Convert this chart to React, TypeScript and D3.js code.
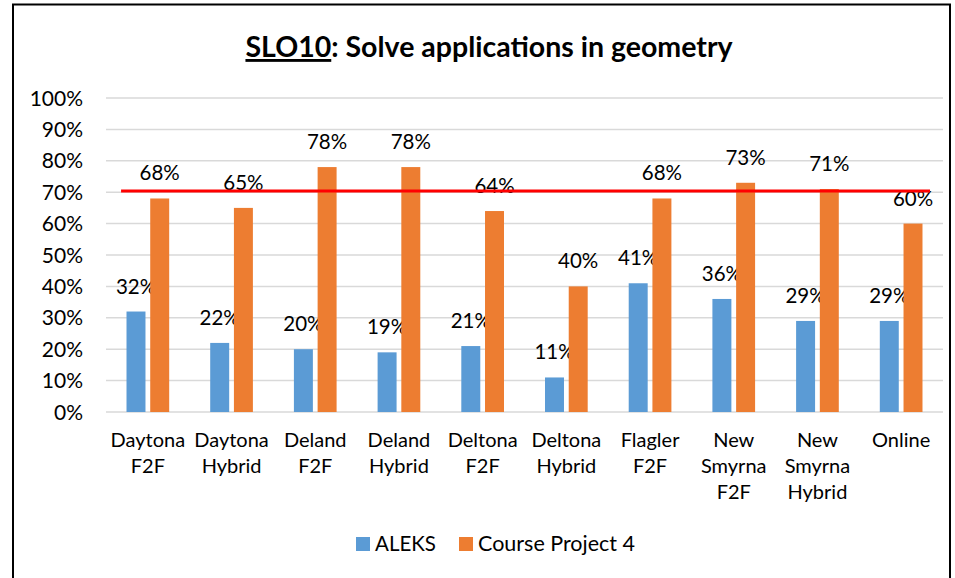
import React from "react";
import * as d3 from "d3";

// chart values
const categories = [
  ["Daytona", "F2F"],
  ["Daytona", "Hybrid"],
  ["Deland", "F2F"],
  ["Deland", "Hybrid"],
  ["Deltona", "F2F"],
  ["Deltona", "Hybrid"],
  ["Flagler", "F2F"],
  ["New", "Smyrna", "F2F"],
  ["New", "Smyrna", "Hybrid"],
  ["Online"],
];
const seriesNames = ["ALEKS", "Course Project 4"];
const aleks = [0.32, 0.22, 0.2, 0.19, 0.21, 0.11, 0.41, 0.36, 0.29, 0.29];
const courseProject = [0.68, 0.65, 0.78, 0.78, 0.64, 0.4, 0.68, 0.73, 0.71, 0.6];
const target = 0.704;
const yTicks = [0, 0.1, 0.2, 0.3, 0.4, 0.5, 0.6, 0.7, 0.8, 0.9, 1];
const colors = ["#5B9BD5", "#ED7D31"];

const W = 955;
const H = 578;
const FONT = "Lato, 'Open Sans', sans-serif";

export default function App() {
  const keys = categories.map((c) => c.join(" "));
  const x = d3.scaleBand().domain(keys).range([106, 943]);
  const bw = x.bandwidth();
  const x1 = d3
    .scaleBand()
    .domain(seriesNames)
    .range([bw * 0.245, bw * 0.755])
    .paddingInner(0.2);
  const y = d3.scaleLinear().domain([0, 1]).range([412, 98]);
  const pct = d3.format(".0%");
  const values = [aleks, courseProject];

  const lineX0 = (x(keys[0]) as number) + bw * 0.18;
  const lineX1 = (x(keys[keys.length - 1]) as number) + bw * 0.845;

  return (
    <svg
      width={W}
      height={H}
      style={{ position: "absolute", left: 0, top: 0, background: "#fff" }}
      fontFamily={FONT}
    >
      <rect x={0} y={0} width={W} height={H} fill="#fff" />
      <rect x={13} y={4.5} width={937} height={H + 10} fill="none" stroke="#000" strokeWidth={2} />

      {/* title */}
      <text x={489} y={57} textAnchor="middle" fontSize={28.5} fontWeight="bold" fill="#000">
        <tspan textDecoration="underline">SLO10</tspan>
        <tspan>: Solve applications in geometry</tspan>
      </text>

      {/* gridlines + y labels */}
      {yTicks.map((t) => (
        <g key={t}>
          <line x1={106} x2={943} y1={y(t)} y2={y(t)} stroke="#d9d9d9" strokeWidth={1.5} />
          <text x={83} y={y(t)} dy="0.36em" textAnchor="end" fontSize={21} fill="#000">
            {pct(t)}
          </text>
        </g>
      ))}

      {/* bars */}
      {values.map((vals, si) =>
        vals.map((v, i) => {
          const bx = (x(keys[i]) as number) + (x1(seriesNames[si]) as number);
          return (
            <g key={`${si}-${i}`}>
              <rect
                x={bx}
                y={y(v)}
                width={x1.bandwidth()}
                height={y(0) - y(v)}
                fill={colors[si]}
              />
              <text
                x={bx + x1.bandwidth() / 2}
                y={y(v) - 18}
                textAnchor="middle"
                fontSize={20.5}
                fill="#000"
              >
                {pct(v)}
              </text>
            </g>
          );
        })
      )}

      {/* target line */}
      <line x1={lineX0} x2={lineX1} y1={y(target)} y2={y(target)} stroke="#FF0000" strokeWidth={3} />

      {/* category labels */}
      {categories.map((lines, i) => (
        <text
          key={keys[i]}
          x={(x(keys[i]) as number) + bw / 2}
          y={447}
          textAnchor="middle"
          fontSize={20}
          fill="#000"
        >
          {lines.map((l, j) => (
            <tspan key={j} x={(x(keys[i]) as number) + bw / 2} dy={j === 0 ? 0 : 26}>
              {l}
            </tspan>
          ))}
        </text>
      ))}

      {/* legend */}
      <g>
        <rect x={356} y={537} width={14} height={14} fill={colors[0]} />
        <text x={375} y={551} fontSize={20.5} fill="#000">
          {seriesNames[0]}
        </text>
        <rect x={459} y={537} width={14} height={14} fill={colors[1]} />
        <text x={478} y={551} fontSize={21.5} fill="#000">
          {seriesNames[1]}
        </text>
      </g>
    </svg>
  );
}
